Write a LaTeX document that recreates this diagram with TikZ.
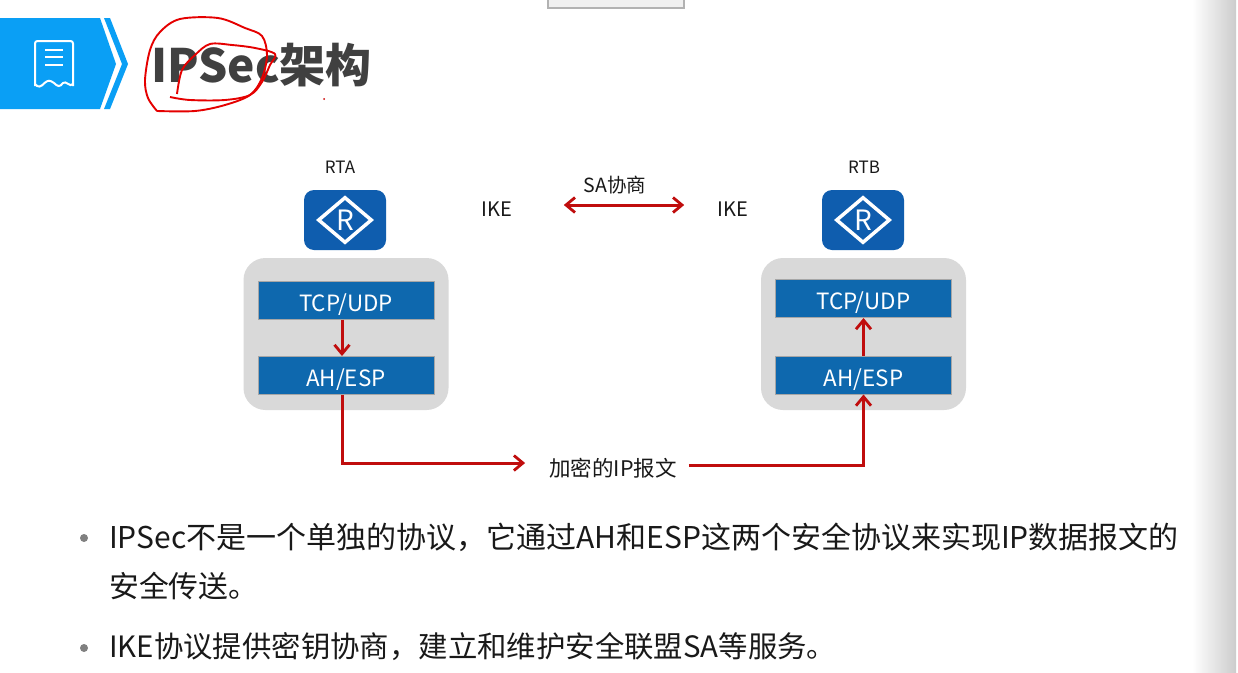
\documentclass[tikz,border=0pt]{standalone}
\usepackage{fontspec}
\setmainfont{Noto Sans CJK SC}
\usetikzlibrary{arrows.meta,shapes.geometric}
\definecolor{bandblue}{HTML}{0A9FF5}
\definecolor{routerblue}{HTML}{0F5DAE}
\definecolor{barblue}{HTML}{0E68AE}
\definecolor{boxgray}{HTML}{D9D9D9}
\definecolor{flowred}{HTML}{C00D0D}
\definecolor{titlegray}{HTML}{404040}
\newcommand{\px}[1]{\fontsize{#1}{#1}\selectfont}
\tikzset{
  routerbox/.style={fill=routerblue, rounded corners=10pt, minimum width=82pt, minimum height=60pt},
  routermark/.style={diamond, draw=white, line width=3.5pt, minimum width=54pt, minimum height=46pt, inner sep=0pt, text=white, font=\px{28}},
  stackbox/.style={fill=boxgray, rounded corners=22pt, minimum width=205pt, minimum height=152pt},
  layerbar/.style={fill=barblue, draw=black!35, line width=1pt, text=white, font=\px{22.4}, minimum width=176pt, minimum height=38pt, inner sep=0pt, text height=22pt, text depth=0pt},
  flow/.style={-{Straight Barb[length=9pt,width=15pt,line width=2.8pt]}, line width=3pt, flowred},
  smalltext/.style={font=\px{17}, text=black!90},
  midtext/.style={font=\px{20}, text=black!90},
  bodytext/.style={font=\px{29.8}, text=black!90, anchor=west, inner sep=0pt},
  scribble/.style={red!90!black, line width=1.9pt, line join=round}
}
\begin{document}
\begin{tikzpicture}[x=1pt, y=-1pt]
  \useasboundingbox (0,0) rectangle (1238,672);
  \fill[white] (0,0) rectangle (1238,672);

  %% Page edge and the window peeking in at the top
  \shade[left color=white, right color=black!20] (1192,0) rectangle (1236,672);
  \fill[black!6] (548,0) rectangle (684,8);
  \draw[black!30, line width=1.5pt] (548,0) -- (548,8) -- (684,8) -- (684,0);

  %% Title band
  \fill[bandblue] (0,18) -- (100,18) -- (116,64) -- (100,109) -- (0,109) -- cycle;
  \fill[bandblue] (104,18) -- (110,18) -- (128,64) -- (110,109) -- (104,109) -- (122,64) -- cycle;
  % Receipt icon
  \draw[white, line width=2pt, rounded corners=2.5pt]
    (35,86) -- (35,41) -- (73,41) -- (73,86);
  \draw[white, line width=2pt, line cap=round]
    (35,84) .. controls (38,88) and (41,87) .. (44.5,83)
    .. controls (48,80) and (50,80) .. (54,83)
    .. controls (58,87) and (60,87) .. (63,83)
    .. controls (66,80) and (70,88) .. (73,84);
  \foreach \y in {50,57,65}
    \draw[white, line width=2pt] (45,\y) -- (63,\y);
  \node[anchor=west, inner sep=0pt, font=\bfseries\px{46}, text=titlegray] (title) at (151,65) {IPSec架构};

  %% Hand-drawn mark over the title
  \draw[scribble] plot[smooth, tension=0.55] coordinates {
    (170,97) (190,100) (225,100) (250,95) (262,82) (270,65) (275,54) (255,48)
    (232,45) (210,44) (195,55) (182,70) (177,94)};
  \draw[scribble] plot[smooth, tension=0.55] coordinates {
    (157,111) (148,98) (145,80) (150,50) (160,32) (180,19) (218,18) (245,28)
    (262,36) (267,55) (262,78) (250,95) (225,105) (195,111) (157,111)};
  \fill[red!80!black] (324,99) circle (1pt);

  %% Left router
  \node[smalltext] (rta) at (340,167) {RTA};
  \node[routerbox] (routerA) at (345,220) {};
  \node[routermark] (markA) at (345,220) {R};
  \node[stackbox] (stackA) at (346,334) {};
  \node[layerbar] (tcpA) at (346,300) {TCP/UDP};
  \node[layerbar] (ahA) at (346,375.5) {AH/ESP};

  %% Right router
  \node[smalltext] (rtb) at (864,167) {RTB};
  \node[routerbox] (routerB) at (863,220) {};
  \node[routermark] (markB) at (863,220) {R};
  \node[stackbox] (stackB) at (863.5,334) {};
  \node[layerbar] (tcpB) at (863.5,298.5) {TCP/UDP};
  \node[layerbar] (ahB) at (863.5,375) {AH/ESP};

  %% Negotiation between the two sides
  \node[midtext] (ikeA) at (497,209) {IKE};
  \node[midtext] (ikeB) at (733,209) {IKE};
  \node[smalltext, font=\px{19.5}] (sa) at (615,185) {SA协商};
  \draw[flow, {Straight Barb[length=9pt,width=15pt,line width=2.8pt]}-{Straight Barb[length=9pt,width=15pt,line width=2.8pt]}, shorten <=48pt, shorten >=30pt]
    ([yshift=4pt]ikeA.east) -- ([yshift=4pt]ikeB.west);

  %% Packet path
  \node[smalltext, font=\px{21.5}, inner sep=0pt] (packet) at (613,468) {加密的IP报文};
  \draw[flow] ([xshift=-4pt]tcpA.south) -- ([xshift=-4pt]ahA.north);
  \draw[flow, shorten >=24pt] ([xshift=-4pt]ahA.south) |- ([yshift=5pt]packet.west);
  \draw[flow, shorten <=12pt] ([yshift=3pt]packet.east) -| (ahB.south);
  \draw[flow] (ahB.north) -- (tcpB.south);

  %% Bullet list
  \fill[black!50] (84,538) circle (4pt);
  \fill[black!50] (84,648) circle (4pt);
  \node[bodytext, font=\px{30}] (lineone) at (109,537) {IPSec不是一个单独的协议，它通过AH和ESP这两个安全协议来实现IP数据报文的};
  \node[bodytext] (linetwo) at (109,586) {安全传送。};
  \node[bodytext, font=\px{29.4}] (linethree) at (109,647) {IKE协议提供密钥协商，建立和维护安全联盟SA等服务。};
\end{tikzpicture}
\end{document}
